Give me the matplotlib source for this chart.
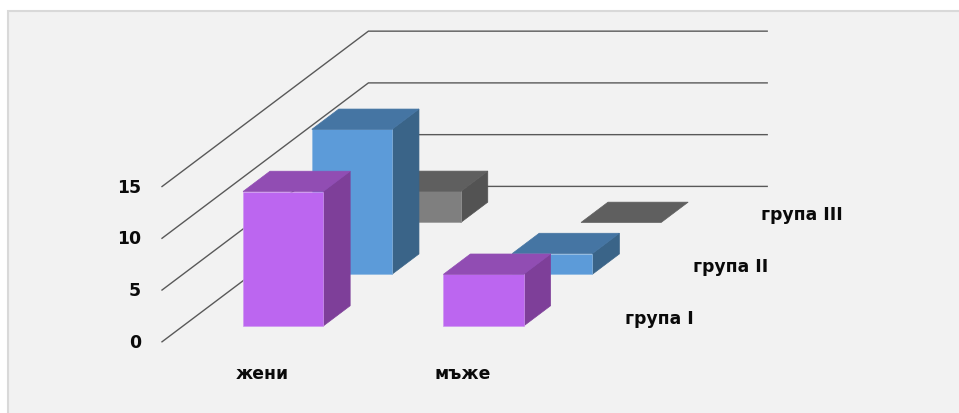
import matplotlib
matplotlib.use("Agg")
import matplotlib.pyplot as plt
from matplotlib.patches import Polygon, Rectangle

categories = ["жени", "мъже"]
series_names = ["група I", "група II", "група III"]
group_1 = [13, 5]
group_2 = [14, 2]
group_3 = [3, 0]
value_ticks = [0, 5, 10, 15]

front_colors = ["#BC66F0", "#5C9BD9", "#7F7F7F"]
top_colors = ["#914DB3", "#4575A3", "#5F5F5F"]
side_colors = ["#7E3F99", "#3A6488", "#535353"]
edge_colors = ["#CE96F0", "#8DB8E2", "#9A9A9A"]

# oblique projection: category position, series depth, value -> pixels
X0, Y0 = 162.0, 342.8
CAT_W = 200.4
DEP_X, DEP_Y = 68.8, -51.8
VAL = 10.35
BAR_W = 0.40
BAR_D = 0.392
FONT = ["DejaVu Sans"]
FS = 12.4


def proj(c, d, v):
    return X0 + c * CAT_W + d * DEP_X, Y0 + d * DEP_Y - v * VAL


fig = plt.figure(figsize=(9.59, 4.14), dpi=100, facecolor="white")
ax = fig.add_axes([0, 0, 1, 1])
ax.set_xlim(0, 959)
ax.set_ylim(414, 0)
ax.axis("off")

ax.add_patch(Rectangle((8, 12), 960, 410, facecolor="#F2F2F2",
                       edgecolor="#D9D9D9", linewidth=1.5, zorder=0))

n_s = len(series_names)
n_c = len(categories)
for v in value_ticks:
    pts = [proj(0, 0, v), proj(0, n_s, v), proj(n_c - 0.01, n_s, v)]
    ax.plot([p[0] for p in pts], [p[1] for p in pts], color="#595959",
            lw=1.0, zorder=1, solid_joinstyle="miter")
    x, y = proj(0, 0, v)
    ax.text(x - 21, y, str(v), ha="right", va="center", fontsize=FS,
            fontweight="bold", family=FONT, color="#0A0A0A", zorder=5)

series_vals = [group_1, group_2, group_3]
z = 2
for s in range(n_s - 1, -1, -1):
    for c in range(n_c):
        v = series_vals[s][c]
        x0, x1 = c + 0.5 - BAR_W / 2, c + 0.5 + BAR_W / 2
        d0 = s + (1 - BAR_D) / 2
        d1 = d0 + BAR_D
        top = [proj(x0, d0, v), proj(x1, d0, v), proj(x1, d1, v), proj(x0, d1, v)]
        if v > 0:
            side = [proj(x1, d0, 0), proj(x1, d1, 0), proj(x1, d1, v), proj(x1, d0, v)]
            front = [proj(x0, d0, 0), proj(x1, d0, 0), proj(x1, d0, v), proj(x0, d0, v)]
            ax.add_patch(Polygon(side, closed=True, facecolor=side_colors[s],
                                 edgecolor=side_colors[s], lw=0.5, zorder=z))
            ax.add_patch(Polygon(front, closed=True, facecolor=front_colors[s],
                                 edgecolor=edge_colors[s], lw=0.5, zorder=z))
        ax.add_patch(Polygon(top, closed=True, facecolor=top_colors[s],
                             edgecolor=top_colors[s], lw=0.5, zorder=z))
        z += 1

for c, name in enumerate(categories):
    x, y = proj(c + 0.5, 0, 0)
    ax.text(x, y + 31, name, ha="center", va="center", fontsize=FS,
            fontweight="bold", family=FONT, color="#0A0A0A", zorder=50)

for s, name in enumerate(series_names):
    x, y = proj(n_c, s + 0.5, 0)
    ax.text(x + 28 - s, y + 2, name, ha="left", va="center", fontsize=FS,
            fontweight="bold", family=FONT, color="#0A0A0A", zorder=50)

fig.savefig("out.png", dpi=100, facecolor="white")
